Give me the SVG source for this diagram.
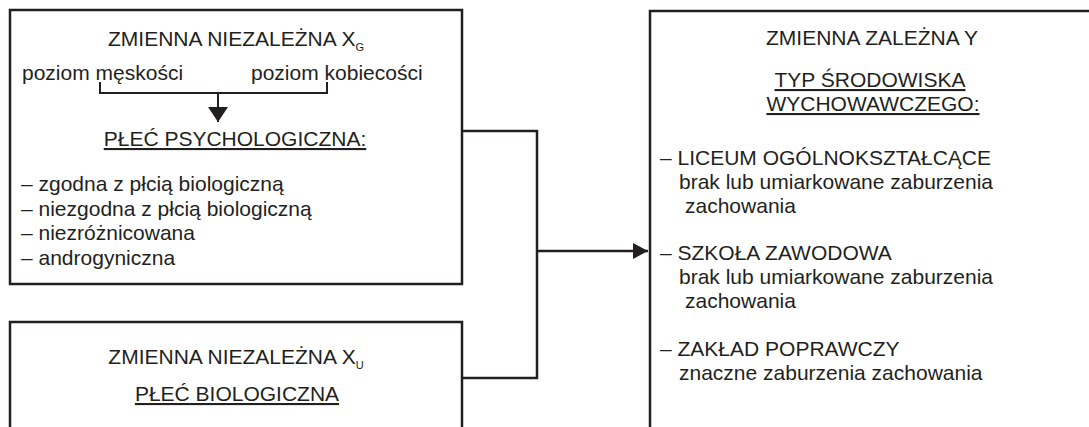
<svg xmlns="http://www.w3.org/2000/svg" width="1089" height="427" viewBox="0 0 1089 427">
<style>
.box{fill:#fff;stroke:#231f20;stroke-width:2.5}
.t{font-family:"Liberation Sans",Arial,sans-serif;font-size:21px;fill:#231f20}
.c{text-anchor:middle}
.u{text-decoration:underline}
.sub{font-size:11px}
.ln{fill:none;stroke:#231f20;stroke-width:2.5}
.br{fill:none;stroke:#231f20;stroke-width:2}
</style>
<defs>
<marker id="ah" viewBox="0 0 15 16" refX="15" refY="8" markerWidth="15" markerHeight="16" markerUnits="userSpaceOnUse" orient="auto">
<path d="M0,0 L15,8 L0,16 Z" fill="#231f20"/>
</marker>
<marker id="ah2" viewBox="0 0 15 20" refX="15" refY="10" markerWidth="15" markerHeight="20" markerUnits="userSpaceOnUse" orient="auto">
<path d="M0,0 L15,10 L0,20 Z" fill="#231f20"/>
</marker>
</defs>
<rect width="1089" height="427" fill="#fff"/>
<g id="connectors">
<path class="ln" d="M462,131 H537 V378 H462"/>
<path class="ln" d="M537,251 H648" marker-end="url(#ah)"/>
</g>
<g id="xg">
<rect class="box" x="10" y="10" width="452" height="274"/>
<text class="t c" x="236" y="46">ZMIENNA NIEZALEŻNA X<tspan class="sub" dy="5">G</tspan></text>
<text class="t" x="22" y="80">poziom męskości</text>
<text class="t" x="251" y="80">poziom kobiecości</text>
<path class="br" d="M100,82 V93 H327 V82"/>
<path class="br" d="M218,93 V122" marker-end="url(#ah2)"/>
<text class="t c u" x="235" y="146">PŁEĆ PSYCHOLOGICZNA:</text>
<text class="t" x="21" y="191">– zgodna z płcią biologiczną</text>
<text class="t" x="21" y="215.5">– niezgodna z płcią biologiczną</text>
<text class="t" x="21" y="240">– niezróżnicowana</text>
<text class="t" x="21" y="264.5">– androgyniczna</text>
</g>
<g id="xu">
<rect class="box" x="10" y="322" width="452" height="120"/>
<text class="t c" x="236" y="364">ZMIENNA NIEZALEŻNA X<tspan class="sub" dy="5">U</tspan></text>
<text class="t c u" x="237" y="401">PŁEĆ BIOLOGICZNA</text>
</g>
<g id="y">
<rect class="box" x="650" y="11" width="460" height="430"/>
<text class="t c" x="872" y="45">ZMIENNA ZALEŻNA Y</text>
<text class="t c u" x="870" y="87">TYP ŚRODOWISKA</text>
<text class="t c u" x="873" y="111">WYCHOWAWCZEGO:</text>
<text class="t" x="660" y="165">– LICEUM OGÓLNOKSZTAŁCĄCE</text>
<text class="t" x="679" y="189">brak lub umiarkowane zaburzenia</text>
<text class="t" x="685" y="213">zachowania</text>
<text class="t" x="660" y="260">– SZKOŁA ZAWODOWA</text>
<text class="t" x="679" y="284">brak lub umiarkowane zaburzenia</text>
<text class="t" x="685" y="308">zachowania</text>
<text class="t" x="660" y="356">– ZAKŁAD POPRAWCZY</text>
<text class="t" x="679" y="380">znaczne zaburzenia zachowania</text>
</g>
</svg>
